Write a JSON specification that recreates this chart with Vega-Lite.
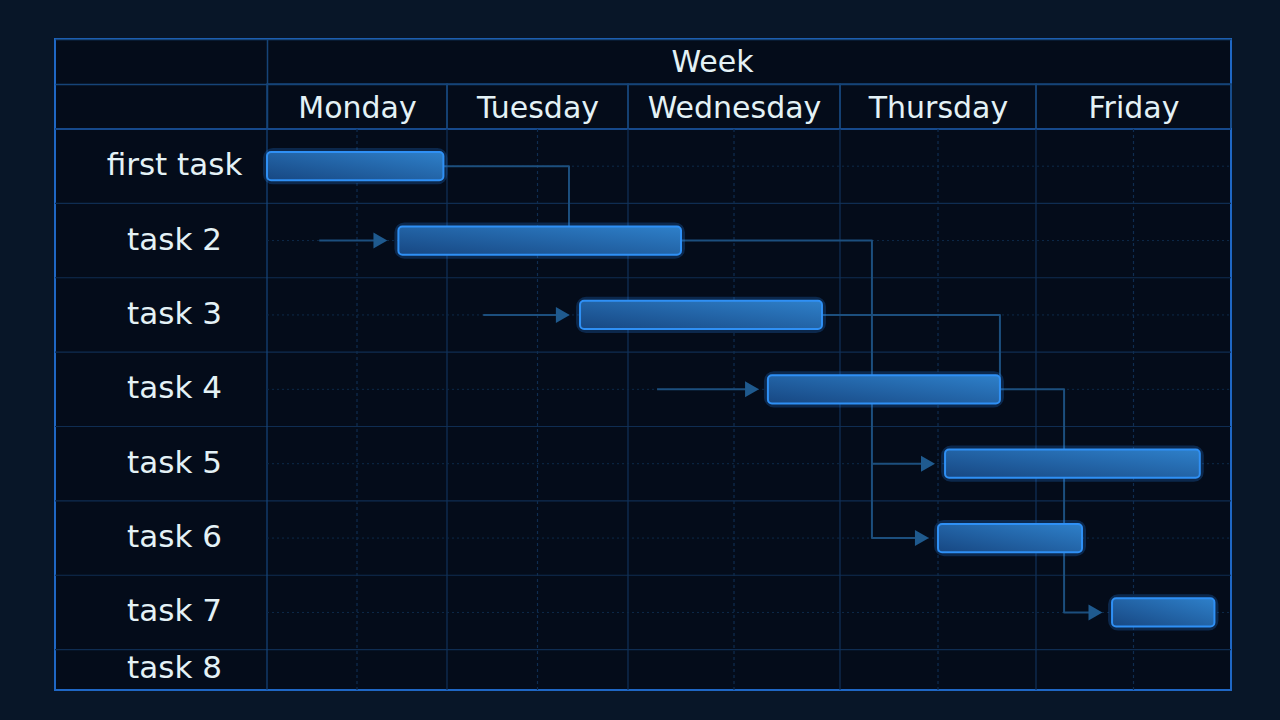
{
  "$schema": "https://vega.github.io/schema/vega-lite/v6.json",
  "background": "#081628",
  "padding": {"left": 53, "top": 38, "right": 51, "bottom": 31},
  "spacing": 0,
  "bounds": "flush",
  "config": {
    "font": "DejaVu Sans",
    "view": {"stroke": "#1f67c4", "strokeWidth": 2, "fill": "#040c1a"},
    "concat": {"spacing": 0}
  },
  "datasets": {
    "tasks": [
      {"task": "first task", "start": 0, "end": 0.98},
      {"task": "task 2", "start": 0.73, "end": 2.25},
      {"task": "task 3", "start": 1.735, "end": 2.915},
      {"task": "task 4", "start": 2.66, "end": 3.816},
      {"task": "task 5", "start": 3.536, "end": 4.84},
      {"task": "task 6", "start": 3.5, "end": 4.236},
      {"task": "task 7", "start": 4.39, "end": 4.915},
      {"task": "task 8", "start": null, "end": null}
    ],
    "days": [
      {"day": "Monday", "start": 0, "noon": 0.5, "end": 1},
      {"day": "Tuesday", "start": 1, "noon": 1.5, "end": 2},
      {"day": "Wednesday", "start": 2, "noon": 2.5, "end": 3},
      {"day": "Thursday", "start": 3, "noon": 3.5, "end": 4},
      {"day": "Friday", "start": 4, "noon": 4.5, "end": 5}
    ],
    "links": [
      {"link": "c1", "seq": 1, "x": 0.98, "task": "first task"},
      {"link": "c1", "seq": 2, "x": 1.674, "task": "first task"},
      {"link": "c1", "seq": 3, "x": 1.674, "task": "task 2"},
      {"link": "c2", "seq": 1, "x": 2.25, "task": "task 2"},
      {"link": "c2", "seq": 2, "x": 3.163, "task": "task 2"},
      {"link": "c2", "seq": 3, "x": 3.163, "task": "task 6"},
      {"link": "c2", "seq": 4, "x": 3.418, "task": "task 6"},
      {"link": "c2b", "seq": 1, "x": 3.163, "task": "task 5"},
      {"link": "c2b", "seq": 2, "x": 3.449, "task": "task 5"},
      {"link": "c3", "seq": 1, "x": 2.915, "task": "task 3"},
      {"link": "c3", "seq": 2, "x": 3.816, "task": "task 3"},
      {"link": "c3", "seq": 3, "x": 3.816, "task": "task 4"},
      {"link": "c4", "seq": 1, "x": 3.816, "task": "task 4"},
      {"link": "c4", "seq": 2, "x": 4.144, "task": "task 4"},
      {"link": "c4", "seq": 3, "x": 4.144, "task": "task 7"},
      {"link": "c4", "seq": 4, "x": 4.305, "task": "task 7"},
      {"link": "l2", "seq": 1, "x": 0.29, "task": "task 2"},
      {"link": "l2", "seq": 2, "x": 0.63, "task": "task 2"},
      {"link": "l3", "seq": 1, "x": 1.2, "task": "task 3"},
      {"link": "l3", "seq": 2, "x": 1.64, "task": "task 3"},
      {"link": "l4", "seq": 1, "x": 2.137, "task": "task 4"},
      {"link": "l4", "seq": 2, "x": 2.585, "task": "task 4"}
    ],
    "arrows": [
      {"task": "task 2", "x": 0.63},
      {"task": "task 3", "x": 1.64},
      {"task": "task 4", "x": 2.585},
      {"task": "task 5", "x": 3.449},
      {"task": "task 6", "x": 3.418},
      {"task": "task 7", "x": 4.305}
    ]
  },
  "vconcat": [
    {
      "width": 1176,
      "height": 90,
      "data": {"name": "days"},
      "mark": {"type": "bar", "filled": false, "color": "#164478", "strokeWidth": 1.5},
      "encoding": {
        "x": {
          "field": "start",
          "type": "quantitative",
          "scale": {"domain": [-1.18, 0, 1, 2, 3, 4, 5], "range": [0, 212, 392, 573, 785, 981, 1176], "nice": false, "zero": false},
          "axis": {
            "orient": "bottom",
            "values": [0, 0.5, 1.5, 2.5, 3.5, 4.5],
            "labelExpr": "datum.value == 0 ? '' : ['Monday','Tuesday','Wednesday','Thursday','Friday'][floor(datum.value)]",
            "labelPadding": -21,
            "labelBaseline": "middle",
            "labelAlign": "center",
            "labelFontSize": 30,
            "labelColor": "#e4f2f6",
            "labelFlush": false,
            "labelOverlap": false,
            "labelBound": false,
            "ticks": false,
            "domain": false,
            "grid": true,
            "gridColor": "#164478",
            "gridWidth": 1.5,
            "gridOpacity": {"condition": {"test": "datum.value == 0", "value": 1}, "value": 0},
            "title": "Week",
            "titleX": 657,
            "titleY": -67,
            "titleBaseline": "middle",
            "titleAlign": "center",
            "titleFontSize": 30,
            "titleFontWeight": "normal",
            "titleColor": "#e4f2f6"
          }
        },
        "x2": {"field": "end"},
        "y": {
          "datum": "day",
          "type": "nominal",
          "scale": {"domain": ["week", "day"], "paddingInner": 0, "paddingOuter": 0},
          "axis": {"labels": false, "ticks": false, "domain": false, "grid": true, "tickBand": "extent", "gridColor": "#164478", "gridWidth": 1.5, "title": null}
        }
      }
    },
    {
      "width": 1176,
      "height": 561,
      "layer": [
        {
          "data": {"name": "tasks"},
          "mark": {"type": "rule", "color": "#0f2d52", "strokeWidth": 1.2},
          "encoding": {
            "x": {
              "datum": -1.18,
              "type": "quantitative",
              "scale": {"domain": [-1.18, 0, 1, 2, 3, 4, 5], "range": [0, 212, 392, 573, 785, 981, 1176], "nice": false, "zero": false},
              "axis": {"labels": false, "ticks": false, "domain": false, "grid": false, "title": null}
            },
            "x2": {"datum": 5},
            "y": {
              "field": "task",
              "type": "nominal",
              "bandPosition": 0,
              "sort": null,
              "scale": {"domain": ["first task", "task 2", "task 3", "task 4", "task 5", "task 6", "task 7", "task 8"], "range": [0, 595], "paddingInner": 0, "paddingOuter": 0},
              "axis": {
                "orient": "left",
                "labelPadding": -119,
                "labelAlign": "center",
                "labelBaseline": "middle",
                "labelFontSize": 31,
                "labelColor": "#e4f2f6",
                "labelOffset": {"condition": {"test": "datum.value == 'task 8'", "value": -18}, "value": 0},
                "labelBound": false,
                "labelOverlap": false,
                "ticks": false,
                "domain": false,
                "grid": false,
                "title": null
              }
            }
          }
        },
        {
          "data": {"name": "days"},
          "mark": {"type": "rule", "strokeWidth": 1.2},
          "encoding": {
            "x": {"field": "start", "type": "quantitative"},
            "color": {"condition": {"test": "datum.start == 0", "value": "#17467c"}, "value": "#11325a"}
          }
        },
        {
          "data": {"name": "days"},
          "mark": {"type": "rule", "strokeWidth": 1.2, "color": "#0f2d50", "strokeDash": [3, 3]},
          "encoding": {
            "x": {"field": "noon", "type": "quantitative"}
          }
        },
        {
          "data": {"name": "tasks"},
          "transform": [{"filter": "datum.start != null"}],
          "mark": {"type": "rule", "color": "#0d2a4a", "strokeWidth": 1, "strokeDash": [2, 3]},
          "encoding": {
            "x": {"datum": 0, "type": "quantitative"},
            "x2": {"datum": 5},
            "y": {"field": "task", "type": "nominal"}
          }
        },
        {
          "data": {"name": "links"},
          "mark": {"type": "line", "color": "#1c4f7e", "strokeWidth": 2, "strokeJoin": "round"},
          "encoding": {
            "x": {"field": "x", "type": "quantitative"},
            "y": {"field": "task", "type": "nominal"},
            "detail": {"field": "link"},
            "order": {"field": "seq"}
          }
        },
        {
          "data": {"name": "arrows"},
          "mark": {"type": "point", "shape": "triangle-right", "filled": true, "size": 260, "color": "#1f5a8e", "opacity": 1},
          "encoding": {
            "x": {"field": "x", "type": "quantitative"},
            "y": {"field": "task", "type": "nominal"}
          }
        },
        {
          "data": {"name": "tasks"},
          "mark": {"type": "bar", "height": {"band": 0.38}, "fill": "transparent", "stroke": "#2a8cff", "strokeWidth": 8, "strokeOpacity": 0.22, "cornerRadius": 6},
          "encoding": {
            "x": {"field": "start", "type": "quantitative"},
            "x2": {"field": "end"},
            "y": {"field": "task", "type": "nominal"}
          }
        },
        {
          "data": {"name": "tasks"},
          "mark": {
            "type": "bar",
            "height": {"band": 0.38},
            "fill": {"gradient": "linear", "x1": 0, "y1": 1, "x2": 1, "y2": 0, "stops": [{"offset": 0, "color": "#174782"}, {"offset": 1, "color": "#2e80ca"}]},
            "stroke": "#2f90f5",
            "strokeWidth": 2,
            "cornerRadius": 4
          },
          "encoding": {
            "x": {"field": "start", "type": "quantitative"},
            "x2": {"field": "end"},
            "y": {"field": "task", "type": "nominal"}
          }
        }
      ]
    }
  ]
}
